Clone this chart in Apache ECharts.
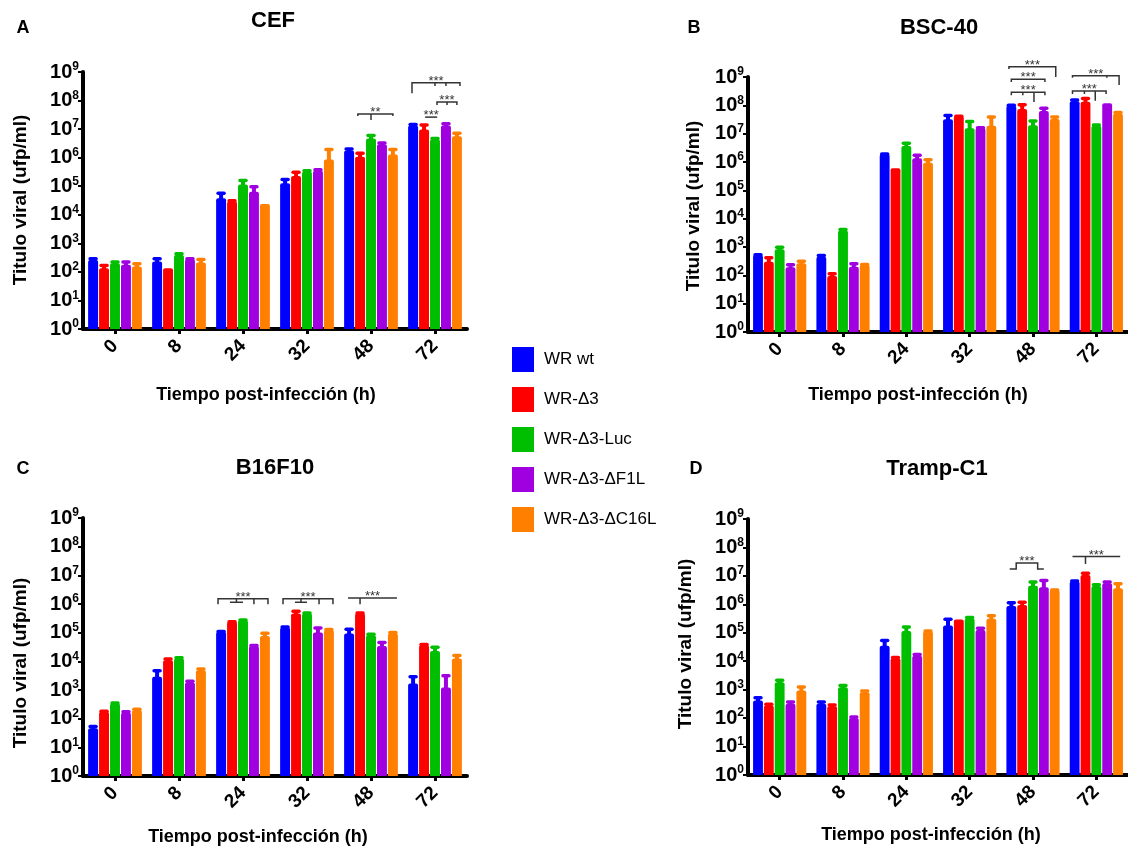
<!DOCTYPE html>
<html>
<head>
<meta charset="utf-8">
<script src="https://cdn.jsdelivr.net/npm/echarts@6/dist/echarts.min.js"></script>
<style>html,body{margin:0;padding:0;background:#fff}#c{width:1128px;height:848px}</style>
</head>
<body>
<div id="c"></div>
<script>
// ---------- data ----------
const categories = ['0', '8', '24', '32', '48', '72'];
const seriesNames = ['WR wt', 'WR-Δ3', 'WR-Δ3-Luc', 'WR-Δ3-ΔF1L', 'WR-Δ3-ΔC16L'];
const panelTitles = ['CEF', 'BSC-40', 'B16F10', 'Tramp-C1'];
const panelLetters = ['A', 'B', 'C', 'D'];
const yTickExponents = [0, 1, 2, 3, 4, 5, 6, 7, 8, 9];

// Panel A – CEF (means and upper error bar ends, ufp/ml)
const cefWt   = [263, 230, 3.8e4, 1.26e5, 1.8e6, 1.33e7];
const cefD3   = [135, 135, 2.9e4, 2.3e5, 1.07e6, 9.6e6];
const cefLuc  = [200, 390, 1.15e5, 3.2e5, 4.7e6, 4.3e6];
const cefF1L  = [177, 277, 6.4e4, 3.5e5, 2.96e6, 1.33e7];
const cefC16L = [155, 213, 2.4e4, 8.7e5, 1.3e6, 5.6e6];
const cefWtErr   = [300, 300, 5.9e4, 1.8e5, 2.1e6, 1.5e7];
const cefD3Err   = [176, 135, 3.2e4, 3.2e5, 1.5e6, 1.44e7];
const cefLucErr  = [230, 450, 1.65e5, 3.6e5, 6.2e6, 4.9e6];
const cefF1LErr  = [230, 300, 1.0e5, 3.9e5, 3.4e6, 1.6e7];
const cefC16LErr = [200, 280, 2.4e4, 2.0e6, 2.0e6, 7.4e6];

// Panel B – BSC-40
const bscWt   = [520, 455, 1.9e6, 3.2e7, 9.7e7, 1.4e8];
const bscD3   = [303, 95, 6.0e5, 4.1e7, 7.4e7, 1.35e8];
const bscLuc  = [830, 3800, 3.7e6, 1.55e7, 2.0e7, 1.9e7];
const bscF1L  = [192, 200, 1.35e6, 1.6e7, 6.3e7, 1.18e8];
const bscC16L = [265, 230, 9.5e5, 1.9e7, 3.3e7, 5.0e7];
const bscWtErr   = [560, 520, 2.0e6, 4.6e7, 1.05e8, 1.6e8];
const bscD3Err   = [435, 118, 6.0e5, 4.3e7, 1.1e8, 1.8e8];
const bscLucErr  = [1020, 4300, 4.8e6, 2.8e7, 2.9e7, 2.1e7];
const bscF1LErr  = [245, 265, 1.8e6, 1.7e7, 8.3e7, 1.18e8];
const bscC16LErr = [330, 250, 1.25e6, 4.0e7, 4.0e7, 5.8e7];

// Panel C – B16F10
const b16Wt   = [46, 2900, 1.07e5, 1.5e5, 9.3e4, 1700];
const b16D3   = [174, 1.1e4, 2.4e5, 4.7e5, 4.7e5, 3.7e4];
const b16Luc  = [340, 1.26e4, 2.7e5, 4.7e5, 8.1e4, 2.3e4];
const b16F1L  = [161, 1830, 3.4e4, 1.02e5, 3.4e4, 1230];
const b16C16L = [200, 4900, 7.6e4, 1.23e5, 9.3e4, 1.26e4];
const b16WtErr   = [55, 4900, 1.15e5, 1.65e5, 1.36e5, 3000];
const b16D3Err   = [190, 1.25e4, 2.5e5, 5.8e5, 5.1e5, 4.0e4];
const b16LucErr  = [370, 1.38e4, 2.9e5, 5.1e5, 9.2e4, 3.2e4];
const b16F1LErr  = [180, 2100, 3.7e4, 1.5e5, 4.7e4, 3300];
const b16C16LErr = [222, 5600, 1.0e5, 1.35e5, 1.05e5, 1.65e4];

// Panel D – Tramp-C1
const trpWt   = [417, 317, 3.5e4, 1.8e5, 8.7e5, 6.3e6];
const trpD3   = [277, 263, 1.26e4, 2.95e5, 9.5e5, 1.07e7];
const trpLuc  = [1820, 1210, 1.16e5, 3.2e5, 4.5e6, 4.4e6];
const trpF1L  = [317, 100, 1.55e4, 1.26e5, 4.0e6, 5.5e6];
const trpC16L = [930, 810, 1.1e5, 3.1e5, 3.2e6, 3.7e6];
const trpWtErr   = [545, 380, 5.6e4, 3.1e5, 1.18e6, 6.9e6];
const trpD3Err   = [317, 300, 1.4e4, 2.95e5, 1.23e6, 1.3e7];
const trpLucErr  = [2250, 1470, 1.65e5, 3.6e5, 6.3e6, 5.1e6];
const trpF1LErr  = [380, 115, 1.78e4, 1.5e5, 7.2e6, 6.3e6];
const trpC16LErr = [1300, 930, 1.2e5, 4.1e5, 3.3e6, 5.5e6];

// Significance brackets: cat = category index, lines in [bar slot offset, log10 value]
const bracketsA = [
  {cat: 4, label: '**', lines: [[[-1.2, 7.46], [-1.2, 7.53], [2.0, 7.53], [2.0, 7.46]], [[0, 7.53], [0, 7.32]]]},
  {cat: 5, label: '***', lines: [[[-2.1, 8.26], [-2.1, 8.62], [2.28, 8.62], [2.28, 8.51]], [[0, 8.62], [0, 8.51]], [[1, 8.62], [1, 8.51]]]},
  {cat: 5, label: '***', lines: [[[0.18, 7.84], [0.18, 7.95], [2.0, 7.95], [2.0, 7.84]], [[1.1, 7.95], [1.1, 7.84]]]},
  {cat: 5, label: '***', lines: [[[-0.9, 7.42], [0.2, 7.42]]]}
];
const bracketsB = [
  {cat: 4, label: '***', lines: [[[-2.22, 9.28], [-2.22, 9.36], [2.1, 9.36], [2.1, 9.0]]]},
  {cat: 4, label: '***', lines: [[[-2.0, 8.82], [-2.0, 8.92], [1.1, 8.92], [1.1, 8.82]]]},
  {cat: 4, label: '***', lines: [[[-2.0, 8.36], [-2.0, 8.46], [1.1, 8.46], [1.1, 8.36]], [[-0.94, 8.46], [-0.94, 8.36]], [[0.09, 8.46], [0.09, 8.12]]]},
  {cat: 5, label: '***', lines: [[[-2.2, 8.97], [-2.2, 9.04], [2.1, 9.04], [2.1, 8.72]], [[0.97, 9.04], [0.97, 8.97]]]},
  {cat: 5, label: '***', lines: [[[-2.2, 8.40], [-2.2, 8.51], [0.9, 8.51], [0.9, 8.40]], [[-1.1, 8.51], [-1.1, 8.40]], [[-0.1, 8.51], [-0.1, 8.16]]]}
];
const bracketsC = [
  {cat: 2, label: '***', lines: [[[-2.28, 5.99], [-2.28, 6.18], [2.28, 6.18], [2.28, 5.99]], [[1.0, 6.18], [1.0, 5.99]], [[-0.6, 6.18], [-0.6, 6.06]], [[-1.19, 6.06], [0, 6.06]]]},
  {cat: 3, label: '***', lines: [[[-2.19, 5.99], [-2.19, 6.18], [2.37, 6.18], [2.37, 5.99]], [[1.1, 6.18], [1.1, 5.99]], [[-0.55, 6.18], [-0.55, 6.06]], [[-1.1, 6.06], [0, 6.06]]]},
  {cat: 4, label: '***', lines: [[[-2.1, 6.21], [2.37, 6.21]], [[-1.0, 6.21], [-1.0, 5.99]]]}
];
const bracketsD = [
  {cat: 4, label: '***', lines: [[[-2.15, 7.24], [-1.55, 7.24], [-1.55, 7.45], [0.43, 7.45], [0.43, 7.24], [1.0, 7.24]]]},
  {cat: 5, label: '***', lines: [[[-2.2, 7.68], [2.2, 7.68]], [[-1.0, 7.68], [-1.0, 7.42]]]}
];

// ---------- assembly ----------
const means = [
  [cefWt, cefD3, cefLuc, cefF1L, cefC16L],
  [bscWt, bscD3, bscLuc, bscF1L, bscC16L],
  [b16Wt, b16D3, b16Luc, b16F1L, b16C16L],
  [trpWt, trpD3, trpLuc, trpF1L, trpC16L]
];
const uppers = [
  [cefWtErr, cefD3Err, cefLucErr, cefF1LErr, cefC16LErr],
  [bscWtErr, bscD3Err, bscLucErr, bscF1LErr, bscC16LErr],
  [b16WtErr, b16D3Err, b16LucErr, b16F1LErr, b16C16LErr],
  [trpWtErr, trpD3Err, trpLucErr, trpF1LErr, trpC16LErr]
];
const brackets = [bracketsA, bracketsB, bracketsC, bracketsD];

const FONT = '"Liberation Sans", Arial, sans-serif';
const colors = ['#0000FF', '#FF0000', '#00BF00', '#A000E0', '#FF8000'];
const CAT_GAP = 0.16, BAR_GAP = 0.10, NB = 5;

const grids = [
  {left: 83, top: 72, width: 384, height: 257},
  {left: 748, top: 77, width: 384, height: 255},
  {left: 83, top: 518, width: 384, height: 258},
  {left: 748, top: 519, width: 384, height: 256}
];

function slotStride(api) {
  const bandW = api.size([1, 0])[0];
  const bw = bandW * (1 - CAT_GAP) / (NB + (NB - 1) * BAR_GAP);
  return {bw: bw, stride: bw * (1 + BAR_GAP)};
}

const xAxes = [], yAxes = [], series = [];
for (let p = 0; p < 4; p++) {
  xAxes.push({
    type: 'category', gridIndex: p, data: categories,
    axisLine: {lineStyle: {color: '#000', width: 4}},
    axisTick: {show: true, alignWithLabel: true, length: 5, lineStyle: {color: '#000', width: 3}},
    axisLabel: {rotate: 45, margin: 14, color: '#000', fontSize: 19, fontWeight: 'bold', fontFamily: FONT},
    splitLine: {show: false}
  });
  yAxes.push({
    type: 'log', logBase: 10, gridIndex: p, min: 1, max: 1e9, splitNumber: 9,
    axisLine: {show: true, lineStyle: {color: '#000', width: 4}},
    axisTick: {show: true, length: 5, lineStyle: {color: '#000', width: 2}},
    splitLine: {show: false},
    axisLabel: {
      margin: 4, color: '#000',
      formatter: function (v) {
        const e = Math.round(Math.log10(v));
        if (yTickExponents.indexOf(e) < 0) return '';
        return '{a|10}{b|' + e + '}';
      },
      rich: {
        a: {fontSize: 20, fontWeight: 'bold', fontFamily: FONT, color: '#000', lineHeight: 22},
        b: {fontSize: 12, fontWeight: 'bold', fontFamily: FONT, color: '#000', lineHeight: 12, verticalAlign: 'top'}
      }
    }
  });
  for (let k = 0; k < NB; k++) {
    series.push({
      type: 'bar', name: seriesNames[k], xAxisIndex: p, yAxisIndex: p,
      data: means[p][k], barGap: (BAR_GAP * 100) + '%', barCategoryGap: (CAT_GAP * 100) + '%',
      itemStyle: {color: colors[k], borderRadius: [2, 2, 0, 0]}, z: 2
    });
  }
  const errData = [];
  for (let k = 0; k < NB; k++) {
    for (let i = 0; i < categories.length; i++) {
      errData.push([i, means[p][k][i], uppers[p][k][i], k]);
    }
  }
  series.push({
    type: 'custom', name: 'err' + p, xAxisIndex: p, yAxisIndex: p, z: 3,
    encode: {x: 0, y: 1}, data: errData, clip: false,
    renderItem: function (params, api) {
      const i = api.value(0), m = api.value(1), u = api.value(2), k = api.value(3);
      if (!(u > m)) return;
      const s = slotStride(api);
      const base = api.coord([i, m]);
      const x = base[0] + (k - 2) * s.stride;
      const y1 = base[1], y2 = api.coord([i, u])[1];
      const cw = s.bw * 0.3;
      return {type: 'group', children: [
        {type: 'line', shape: {x1: x, y1: y1 + 1, x2: x, y2: y2 + 1}, style: {stroke: colors[k], lineWidth: 4}},
        {type: 'line', shape: {x1: x - cw, y1: y2 + 0.5, x2: x + cw, y2: y2 + 0.5}, style: {stroke: colors[k], lineWidth: 3.5, lineCap: 'round'}}
      ]};
    }
  });
  const brData = brackets[p].map(function (b, idx) { return [b.cat, 1e8, idx]; });
  series.push({
    type: 'custom', name: 'sig' + p, xAxisIndex: p, yAxisIndex: p, z: 4,
    encode: {x: 0, y: 1}, data: brData, clip: false,
    renderItem: (function (pp) {
      return function (params, api) {
        const b = brackets[pp][api.value(2)];
        const s = slotStride(api);
        const cx = api.coord([b.cat, 1])[0];
        const X = function (pos) { return cx + pos * s.stride; };
        const Y = function (e) { return api.coord([b.cat, Math.pow(10, e)])[1]; };
        const children = b.lines.map(function (ln) {
          return {type: 'polyline', shape: {points: ln.map(function (pt) { return [X(pt[0]), Y(pt[1])]; })},
                  style: {stroke: '#333', lineWidth: 1.5, fill: null}};
        });
        const top = b.lines[0];
        let ymin = Infinity, xa = Infinity, xb = -Infinity;
        top.forEach(function (pt) { ymin = Math.min(ymin, Y(pt[1])); });
        top.forEach(function (pt) { if (Math.abs(Y(pt[1]) - ymin) < 0.5) { xa = Math.min(xa, X(pt[0])); xb = Math.max(xb, X(pt[0])); } });
        children.push({type: 'text', style: {text: b.label, x: (xa + xb) / 2, y: ymin + 5, align: 'center', verticalAlign: 'bottom',
                       fill: '#333', font: '13px ' + FONT}});
        return {type: 'group', children: children};
      };
    })(p)
  });
}

// Text placements
const titlePos = [[273, 21], [939, 28], [275, 468], [937, 469]];
const letterPos = [[23, 28], [694, 28], [23, 469], [696, 469]];
const yNamePos = [[21, 200], [694, 206], [21, 663], [686, 644]];
const xNamePos = [[266, 395], [918, 395], [258, 837], [931, 835]];
const yName = 'Titulo viral (ufp/ml)';
const xName = 'Tiempo post-infección (h)';

const graphic = [];
for (let p = 0; p < 4; p++) {
  graphic.push({type: 'text', x: titlePos[p][0], y: titlePos[p][1],
    style: {text: panelTitles[p], font: 'bold 22px ' + FONT, fill: '#000', align: 'center', verticalAlign: 'middle'}});
  graphic.push({type: 'text', x: letterPos[p][0], y: letterPos[p][1],
    style: {text: panelLetters[p], font: 'bold 18px ' + FONT, fill: '#000', align: 'center', verticalAlign: 'middle'}});
  graphic.push({type: 'text', x: yNamePos[p][0], y: yNamePos[p][1], rotation: Math.PI / 2,
    style: {text: yName, font: 'bold 19px ' + FONT, fill: '#000', align: 'center', verticalAlign: 'middle'}});
  graphic.push({type: 'text', x: xNamePos[p][0], y: xNamePos[p][1],
    style: {text: xName, font: 'bold 18px ' + FONT, fill: '#000', align: 'center', verticalAlign: 'middle'}});
}

const chart = echarts.init(document.getElementById('c'), null, {renderer: 'canvas'});
chart.setOption({
  animation: false,
  backgroundColor: '#fff',
  grid: grids,
  xAxis: xAxes,
  yAxis: yAxes,
  legend: {
    data: seriesNames, orient: 'vertical', left: 507, top: 342,
    itemWidth: 22, itemHeight: 25, itemGap: 15, icon: 'rect', selectedMode: false,
    textStyle: {fontSize: 17, color: '#000', fontFamily: FONT, padding: [0, 0, 0, 5]}
  },
  graphic: graphic,
  series: series
});
</script>
</body>
</html>
